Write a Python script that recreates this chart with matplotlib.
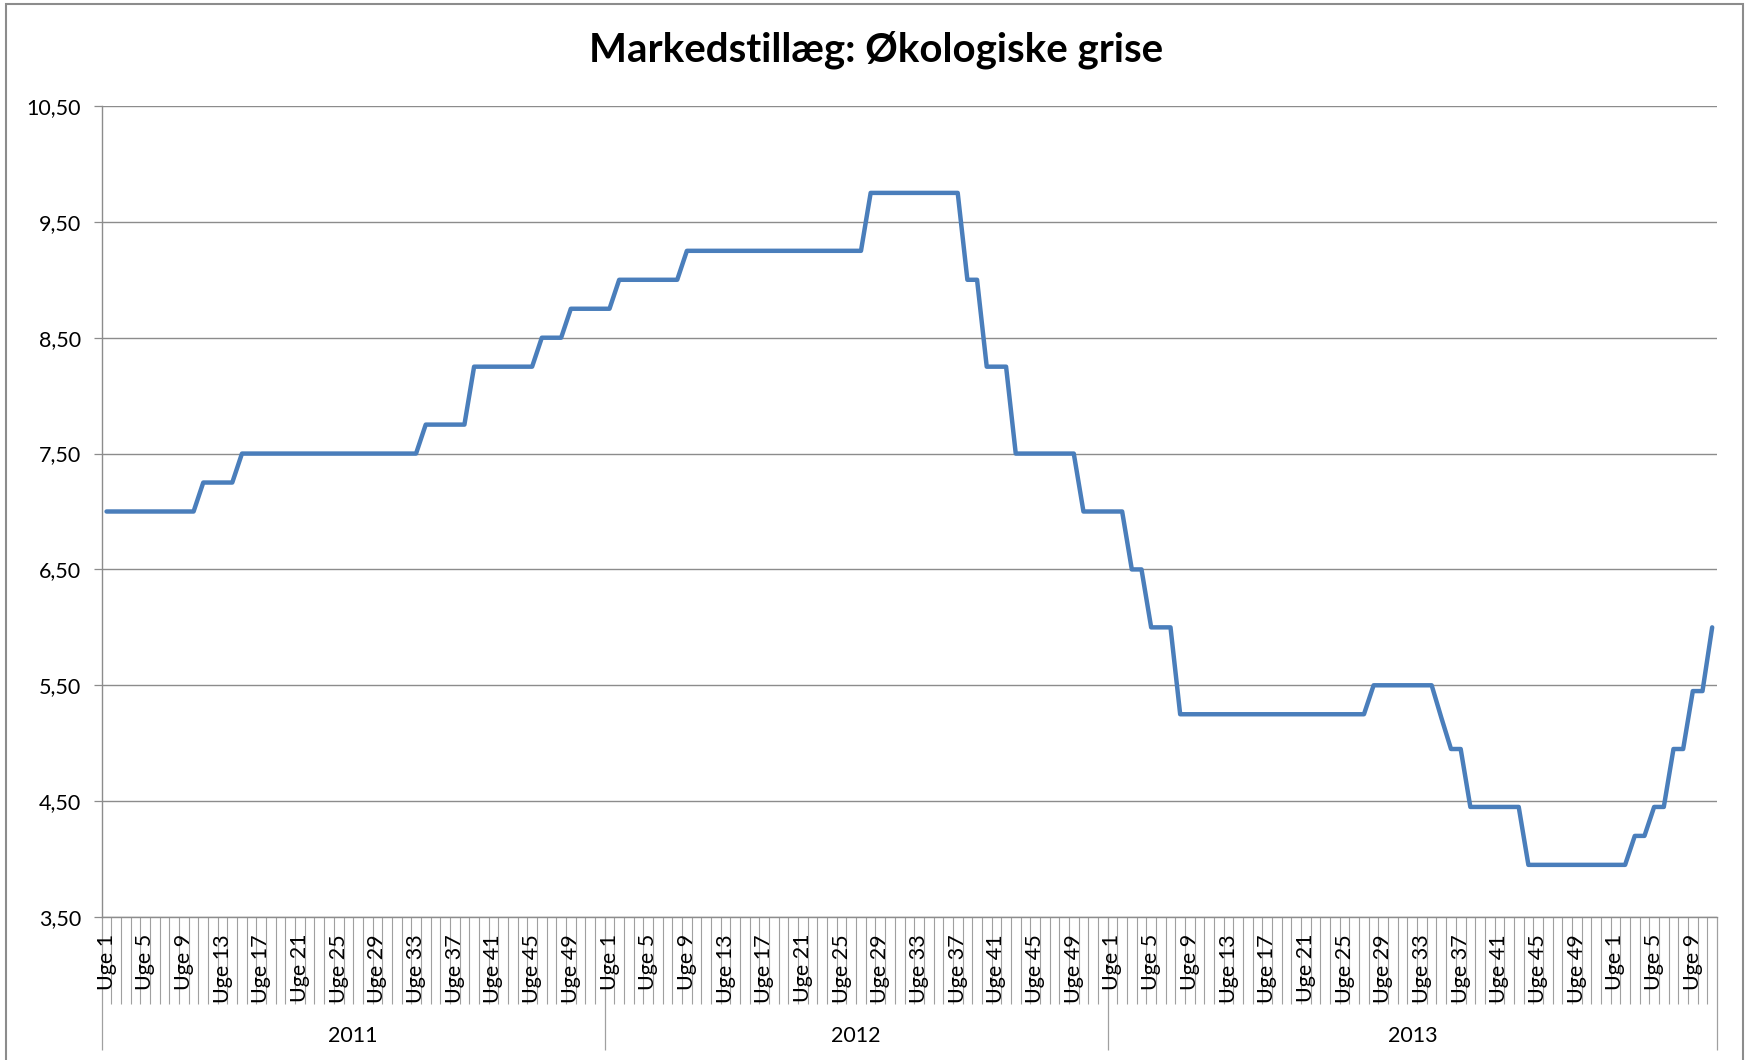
import matplotlib
matplotlib.use('Agg')
import matplotlib.pyplot as plt
import matplotlib.transforms as mtransforms
from matplotlib.patches import Rectangle
from matplotlib.ticker import FuncFormatter

plt.rcParams['font.family'] = ['Lato', 'DejaVu Sans']

title = 'Markedstillæg: Økologiske grise'

# weekly prices (kr/kg)
prices_2011 = [7.00, 7.00, 7.00, 7.00, 7.00, 7.00, 7.00, 7.00, 7.00, 7.00,
               7.25, 7.25, 7.25, 7.25,
               7.50, 7.50, 7.50, 7.50, 7.50, 7.50, 7.50, 7.50, 7.50, 7.50,
               7.50, 7.50, 7.50, 7.50, 7.50, 7.50, 7.50, 7.50, 7.50,
               7.75, 7.75, 7.75, 7.75, 7.75,
               8.25, 8.25, 8.25, 8.25, 8.25, 8.25, 8.25,
               8.50, 8.50, 8.50,
               8.75, 8.75, 8.75, 8.75]
prices_2012 = [8.75,
               9.00, 9.00, 9.00, 9.00, 9.00, 9.00, 9.00,
               9.25, 9.25, 9.25, 9.25, 9.25, 9.25, 9.25, 9.25, 9.25, 9.25,
               9.25, 9.25, 9.25, 9.25, 9.25, 9.25, 9.25, 9.25, 9.25,
               9.75, 9.75, 9.75, 9.75, 9.75, 9.75, 9.75, 9.75, 9.75, 9.75,
               9.00, 9.00,
               8.25, 8.25, 8.25,
               7.50, 7.50, 7.50, 7.50, 7.50, 7.50, 7.50,
               7.00, 7.00, 7.00]
prices_2013 = [7.00, 7.00,
               6.50, 6.50,
               6.00, 6.00, 6.00,
               5.25, 5.25, 5.25, 5.25, 5.25, 5.25, 5.25, 5.25, 5.25, 5.25,
               5.25, 5.25, 5.25, 5.25, 5.25, 5.25, 5.25, 5.25, 5.25, 5.25,
               5.50, 5.50, 5.50, 5.50, 5.50, 5.50, 5.50,
               5.22,
               4.95, 4.95,
               4.45, 4.45, 4.45, 4.45, 4.45, 4.45,
               3.95, 3.95, 3.95, 3.95, 3.95, 3.95, 3.95, 3.95, 3.95]
# first weeks of 2014 sit under the 2013 group in the original sheet
prices_2014 = [3.95, 3.95, 4.20, 4.20, 4.45, 4.45, 4.95, 4.95, 5.45, 5.45, 6.00]

weeks_2011 = list(range(1, 53))
weeks_2012 = list(range(1, 53))
weeks_2013 = list(range(1, 53))
weeks_2014 = list(range(1, 12))

year_labels = ['2011', '2012', '2013']
year_sizes = [len(weeks_2011), len(weeks_2012), len(weeks_2013) + len(weeks_2014)]

y_ticks = [3.5, 4.5, 5.5, 6.5, 7.5, 8.5, 9.5, 10.5]

LINE_COLOR = '#4a7ebb'
GRID_COLOR = '#8c8c8c'
TICK_COLOR = '#a0a0a0'
PT = 72 / 100  # points per pixel at dpi 100


def comma_fmt(v, pos):
    return f'{v:.2f}'.replace('.', ',')


def main():
    values = prices_2011 + prices_2012 + prices_2013 + prices_2014
    weeks = weeks_2011 + weeks_2012 + weeks_2013 + weeks_2014
    n = len(values)
    x = list(range(n))

    fig = plt.figure(figsize=(17.52, 10.6), dpi=100)
    ax = fig.add_axes([101.7 / 1752, 1 - 917 / 1060, (1717 - 101.7) / 1752, (917 - 106) / 1060])

    ax.plot(x, values, color=LINE_COLOR, lw=3.2, solid_joinstyle='round',
            solid_capstyle='round', zorder=3)

    ax.set_xlim(-0.5, n - 0.5)
    ax.set_ylim(3.5, 10.5)
    ax.set_yticks(y_ticks)
    ax.yaxis.set_major_formatter(FuncFormatter(comma_fmt))
    ax.yaxis.grid(True, color=GRID_COLOR, lw=1.0)
    ax.set_axisbelow(True)
    ax.tick_params(axis='y', length=6, width=0.9, color=GRID_COLOR, pad=9,
                   labelsize=15.5, labelcolor='black')

    # category axis: small ticks between weeks, long ones between year groups
    bounds = [-0.5]
    for size in year_sizes:
        bounds.append(bounds[-1] + size)
    ax.set_xticks(bounds)
    ax.set_xticks([i - 0.5 for i in range(n + 1)], minor=True)
    ax.tick_params(axis='x', which='major', length=133 * PT, width=0.9,
                   color=TICK_COLOR, labelbottom=False)
    ax.tick_params(axis='x', which='minor', length=87 * PT, width=0.8,
                   color=TICK_COLOR)

    for side in ['top', 'right']:
        ax.spines[side].set_visible(False)
    for side in ['left', 'bottom']:
        ax.spines[side].set_color(GRID_COLOR)
        ax.spines[side].set_linewidth(1.0)

    trans = mtransforms.blended_transform_factory(ax.transData, ax.transAxes)
    h = 917 - 106
    for i, w in enumerate(weeks):
        if (w - 1) % 4 == 0:
            ax.text(i, -17 / h, f'Uge {w}', transform=trans, rotation=90,
                    ha='center', va='top', fontsize=15.5, color='black')
    for label, lo, hi in zip(year_labels, bounds[:-1], bounds[1:]):
        ax.text((lo + hi) / 2, -(1036 - 917) / h, label, transform=trans,
                ha='center', va='center', fontsize=15.5, color='black')

    fig.text(0.5, 1 - 50 / 1060, title, ha='center', va='center',
             fontsize=29, fontweight='bold', color='black')

    # chart frame
    fig.add_artist(Rectangle((6 / 1752, -0.05), (1743 - 6) / 1752, 1.05 - 4 / 1060,
                             transform=fig.transFigure, fill=False,
                             edgecolor=GRID_COLOR, lw=1.5))

    fig.savefig('out.png', dpi=100)
    plt.close(fig)


if __name__ == '__main__':
    main()
